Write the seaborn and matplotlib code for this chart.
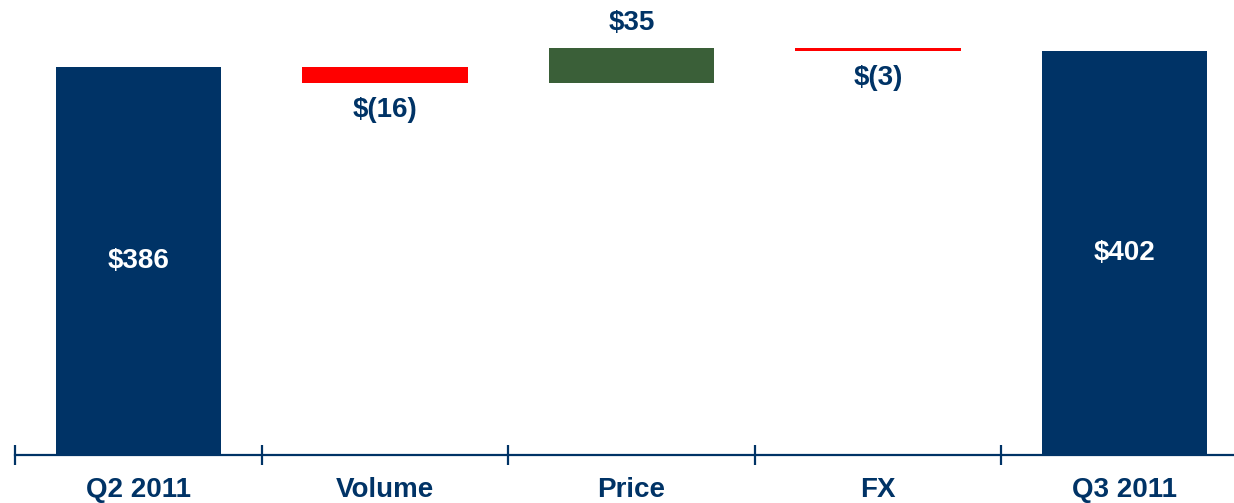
import matplotlib
matplotlib.use("Agg")
import matplotlib.pyplot as plt
import seaborn as sns
import numpy as np

sns.set_style("white")
plt.rcParams["font.family"] = ["Liberation Sans", "DejaVu Sans"]

# Waterfall data (US$ millions)
categories = ["Q2 2011", "Volume", "Price", "FX", "Q3 2011"]
changes = [386, -16, 35, -3, 402]
labels = ["$386", "$(16)", "$35", "$(3)", "$402"]
kinds = ["total", "delta", "delta", "delta", "total"]

NAVY = "#003366"
RED = "#FF0000"
GREEN = "#3A5F38"
FS = 20

# Bar bottoms/heights for the floating steps
bottoms, heights = [], []
running = 0
for v, k in zip(changes, kinds):
    if k == "total":
        bottoms.append(0)
        heights.append(v)
        running = v
    else:
        start = running
        running += v
        bottoms.append(min(start, running))
        heights.append(abs(v))

colors = []
for v, k in zip(changes, kinds):
    if k == "total":
        colors.append(NAVY)
    else:
        colors.append(GREEN if v > 0 else RED)

fig = plt.figure(figsize=(12.34, 5.03), dpi=100)
ax = fig.add_axes([15 / 1234, 1 - 455 / 503, 1233 / 1234, 452 / 503])

sns.barplot(x=categories, y=heights, bottom=bottoms, width=0.67,
            color=NAVY, ax=ax, linewidth=0, saturation=1)
for p, c in zip(ax.patches, colors):
    p.set_facecolor(c)
    p.set_edgecolor(c)

ax.set_xlim(-0.5, 4.5)
ax.set_ylim(0, 450)

# Value labels
for i, (b, h, v, k, lab) in enumerate(zip(bottoms, heights, changes, kinds, labels)):
    if k == "total":
        ax.text(i, b + h / 2, lab, ha="center", va="center", color="white",
                fontsize=FS, fontweight="bold")
    elif v > 0:
        ax.annotate(lab, (i, b + h), xytext=(0, 18), textcoords="offset points",
                    ha="center", va="center", color=NAVY, fontsize=FS,
                    fontweight="bold")
    else:
        ax.annotate(lab, (i, b), xytext=(0, -19), textcoords="offset points",
                    ha="center", va="center", color=NAVY, fontsize=FS,
                    fontweight="bold")

# Axis styling: only a bottom baseline with separator ticks between categories
for s in ["top", "right", "left"]:
    ax.spines[s].set_visible(False)
ax.spines["bottom"].set_color(NAVY)
ax.spines["bottom"].set_linewidth(1.6)
ax.set_yticks([])
ax.set_xticks(range(len(categories)))
ax.set_xticklabels(categories, fontsize=FS, fontweight="bold", color=NAVY)
ax.tick_params(axis="x", which="major", bottom=False, length=0, pad=16)
ax.set_xticks(np.arange(-0.5, len(categories), 1.0), minor=True)
ax.tick_params(axis="x", which="minor", bottom=True, direction="inout",
               length=14, width=1.6, color=NAVY)
ax.set_xlabel("")
ax.set_ylabel("")
ax.set_facecolor("white")

fig.savefig("out.png", dpi=100, facecolor="white")
